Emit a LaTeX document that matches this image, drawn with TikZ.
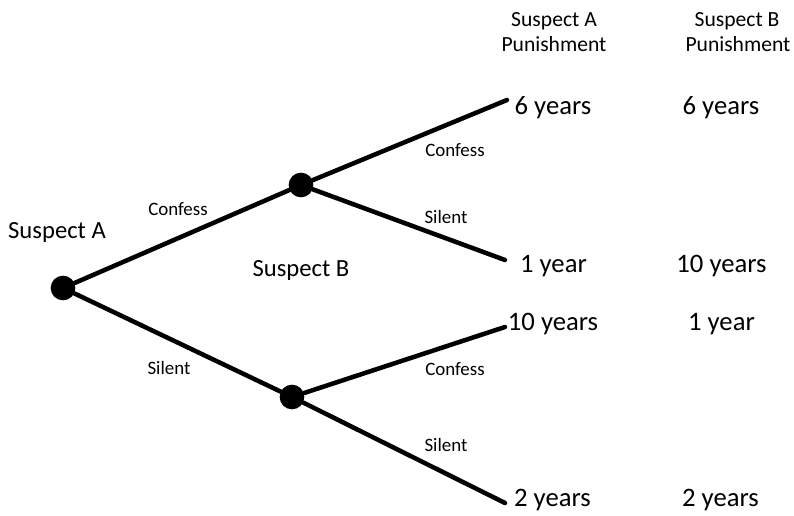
\documentclass[tikz,border=0pt]{standalone}
\usepackage{fontspec}
\setmainfont{Carlito}
\begin{document}
\begin{tikzpicture}[x=0.75pt,y=-0.75pt,
  decision/.style={circle,fill=black,inner sep=0pt,minimum size=18.5pt},
  branch/.style={line width=3.4pt,line cap=round},
  player/.style={anchor=base,inner sep=0pt,font=\fontsize{18.5}{22}\selectfont},
  move/.style={anchor=base,inner sep=0pt,font=\fontsize{14.2}{17}\selectfont},
  payoff/.style={anchor=base,inner sep=0pt,font=\fontsize{20}{24}\selectfont},
  header/.style={anchor=base,inner sep=0pt,font=\fontsize{16.2}{19}\selectfont,align=center}]
\useasboundingbox (0,0) rectangle (794,516);

% decision points
\node[decision] (A)  at (63,288) {};
\node[decision] (B1) at (301,185) {};
\node[decision] (B2) at (292,397) {};

% leaf ends
\coordinate (L1) at (507,100);
\coordinate (L2) at (505,260);
\coordinate (L3) at (505,327);
\coordinate (L4) at (505,503);

% branches
\draw[branch] (A) -- (B1);
\draw[branch] (A) -- (B2);
\draw[branch] (B1) -- (L1);
\draw[branch] (B1) -- (L2);
\draw[branch] (B2) -- (L3);
\draw[branch] (B2) -- (L4);

% player labels
\node[player] (pA) at (57,239) {Suspect A};
\node[player] (pB) at (301,277) {Suspect B};

% move labels
\node[move] (mAC) at (178,216) {Confess};
\node[move] (mAS) at (169,375) {Silent};
\node[move] (mB1C) at (455,157) {Confess};
\node[move] (mB1S) at (446,224) {Silent};
\node[move] (mB2C) at (455,376) {Confess};
\node[move] (mB2S) at (446,452) {Silent};

% column headers
\node[header] (hA1) at (554,27) {Suspect A};
\node[header] (hA2) at (554,52) {Punishment};
\node[header] (hB1) at (737,27) {Suspect B};
\node[header] (hB2) at (738,52) {Punishment};

% outcomes
\node[payoff] (a1) at (553,115) {6 years};
\node[payoff] (b1) at (721,115) {6 years};
\node[payoff] (a2) at (553.5,273) {1 year};
\node[payoff] (b2) at (721.5,273) {10 years};
\node[payoff] (a3) at (553,331) {10 years};
\node[payoff] (b3) at (721.5,331) {1 year};
\node[payoff] (a4) at (552.5,507) {2 years};
\node[payoff] (b4) at (720.5,507) {2 years};
\end{tikzpicture}
\end{document}
